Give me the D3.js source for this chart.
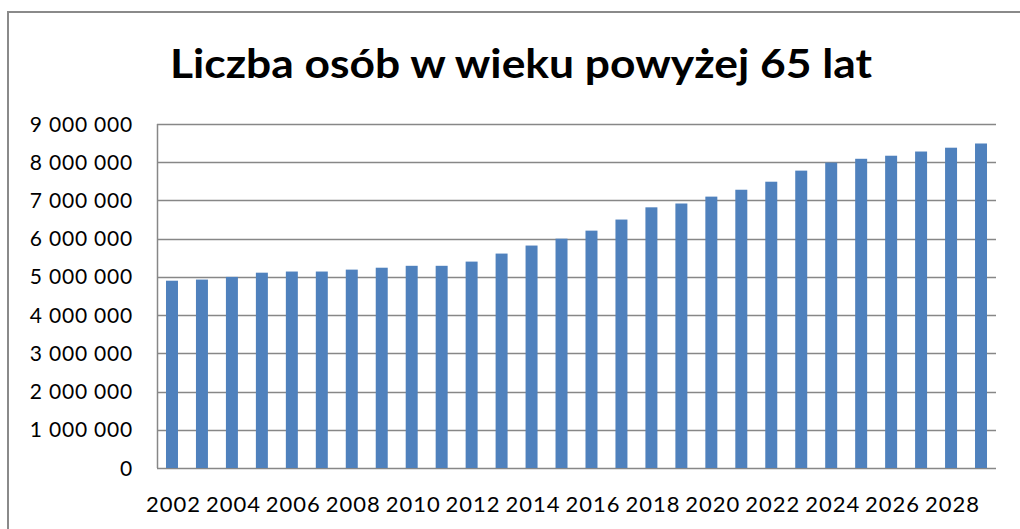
<!DOCTYPE html>
<html>
<head>
<meta charset="utf-8">
<script src="https://cdn.jsdelivr.net/npm/d3@7"></script>
<style>
  body { margin: 0; background: #fff; }
  svg { display: block; }
  text { font-family: Lato, "Open Sans", sans-serif; fill: #000; }
</style>
</head>
<body>
<div id="chart"></div>
<script>
// data
const years = d3.range(2002, 2030).map(String);
const values = [
  4900000, 4930000, 5000000, 5110000, 5140000, 5140000, 5190000, 5240000,
  5290000, 5290000, 5400000, 5610000, 5820000, 6000000, 6210000, 6500000,
  6820000, 6920000, 7100000, 7280000, 7490000, 7780000, 7990000, 8090000,
  8170000, 8280000, 8380000, 8490000
];
const yTicks = d3.range(0, 9000001, 1000000);
const xLabels = years.filter((d, i) => i % 2 === 0);
const title = "Liczba osób w wieku powyżej 65 lat";

const W = 1020, H = 529;
const plot = {left: 157, right: 996, top: 124, bottom: 468};

const svg = d3.select("#chart")
  .append("svg")
    .attr("width", W)
    .attr("height", H);

// outer chart frame
svg.append("rect")
    .attr("x", 8)
    .attr("y", 12)
    .attr("width", W)
    .attr("height", H)
    .attr("fill", "none")
    .attr("stroke", "#8a8a8a")
    .attr("stroke-width", 2);

svg.append("text")
    .attr("x", 521)
    .attr("y", 78)
    .attr("text-anchor", "middle")
    .style("font-size", "40px")
    .style("font-weight", "bold")
    .attr("textLength", 702)
    .attr("lengthAdjust", "spacingAndGlyphs")
    .text(title);

const x = d3.scaleBand()
    .domain(years)
    .range([plot.left, plot.right])
    .paddingInner(0.6)
    .paddingOuter(0.3);

const y = d3.scaleLinear()
    .domain([0, 9000000])
    .range([plot.bottom, plot.top]);

const fmt = d => d3.format(",")(d).replace(/,/g, " ");

// gridlines
svg.append("g")
  .selectAll("line")
  .data(yTicks)
  .join("line")
    .attr("x1", plot.left)
    .attr("x2", plot.right)
    .attr("y1", d => Math.round(y(d)) + 0.5)
    .attr("y2", d => Math.round(y(d)) + 0.5)
    .attr("stroke", "#878787")
    .attr("stroke-width", 1.5);

// left axis line
svg.append("line")
    .attr("x1", plot.left + 0.5)
    .attr("x2", plot.left + 0.5)
    .attr("y1", plot.top)
    .attr("y2", plot.bottom)
    .attr("stroke", "#878787")
    .attr("stroke-width", 1.5);

// bars
svg.append("g")
  .selectAll("rect")
  .data(values)
  .join("rect")
    .attr("x", (d, i) => x(years[i]))
    .attr("y", d => y(d))
    .attr("width", x.bandwidth())
    .attr("height", d => y(0) - y(d))
    .attr("fill", "#4f81bd");

// y labels
svg.append("g")
  .selectAll("text")
  .data(yTicks)
  .join("text")
    .attr("x", 133)
    .attr("y", d => y(d))
    .attr("dy", "0.36em")
    .attr("text-anchor", "end")
    .style("font-size", "21px")
    .style("letter-spacing", "0.8px")
    .text(fmt);

// x labels
svg.append("g")
  .selectAll("text")
  .data(xLabels)
  .join("text")
    .attr("x", d => x(d) + x.bandwidth() / 2 + 1.5)
    .attr("y", 512)
    .attr("text-anchor", "middle")
    .style("font-size", "22px")
    .style("letter-spacing", "1px")
    .text(d => d);
</script>
</body>
</html>
